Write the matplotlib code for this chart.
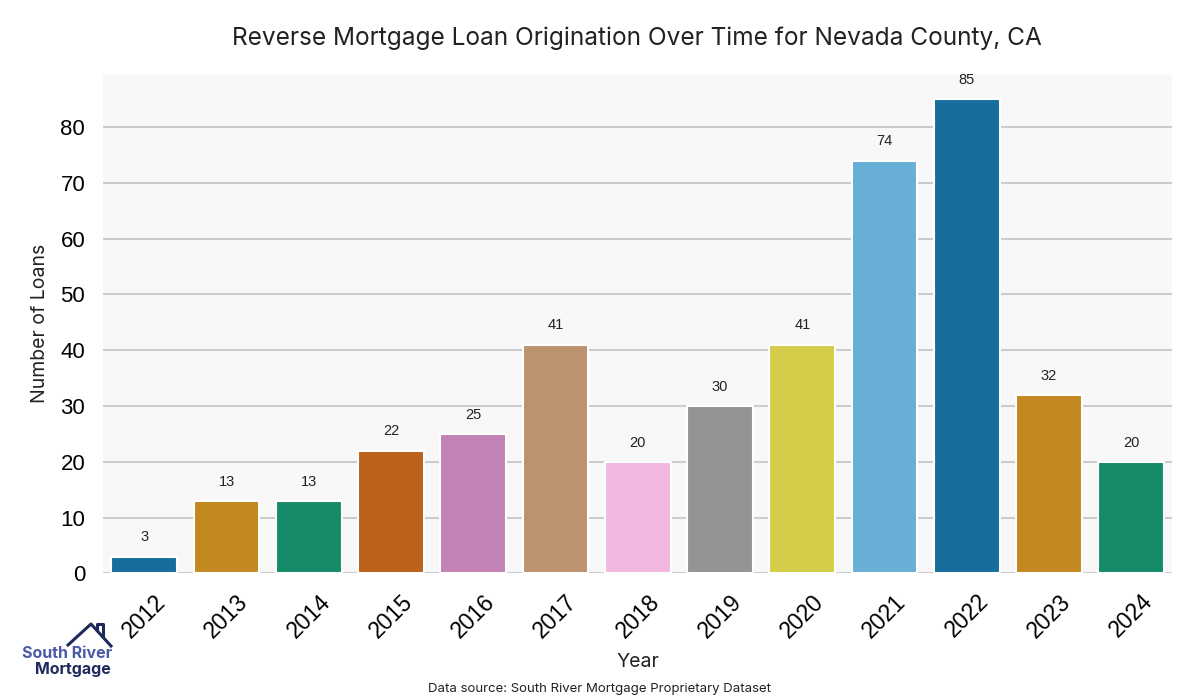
import matplotlib
matplotlib.use("Agg")
import matplotlib.pyplot as plt
import matplotlib.colors as mcolors
import colorsys
from matplotlib.lines import Line2D

years = ["2012", "2013", "2014", "2015", "2016", "2017", "2018", "2019", "2020", "2021", "2022", "2023", "2024"]
loans = [3, 13, 13, 22, 25, 41, 20, 30, 41, 74, 85, 32, 20]
palette = ["#0173B2", "#DE8F05", "#029E73", "#D55E00", "#CC78BC", "#CA9161",
           "#FBAFE4", "#949494", "#ECE133", "#56B4E9", "#0173B2", "#DE8F05", "#029E73"]

def desat(c, s=0.75):
    r, g, b = mcolors.to_rgb(c)
    h, l, sat = colorsys.rgb_to_hls(r, g, b)
    return colorsys.hls_to_rgb(h, l, sat * s)

colors = [desat(c) for c in palette]

fig = plt.figure(figsize=(12, 7), dpi=100)
ax = fig.add_axes([0.086, 0.181, 0.891, 0.713])
ax.set_facecolor("#f8f8f8")
x = list(range(len(years)))
bars = ax.bar(x, loans, width=0.8, color=colors, edgecolor="white", linewidth=1.5, zorder=3)
for xi, v in zip(x, loans):
    ax.text(xi, v + 2.2, str(v), ha="center", va="bottom", fontsize=10.5,
            family="Liberation Sans", color="#222222")

ax.set_xlim(-0.5, len(years) - 0.5)
ax.set_ylim(0, 89.5)
ax.set_yticks([0, 10, 20, 30, 40, 50, 60, 70, 80])
ax.yaxis.grid(True, color="#cccccc", linewidth=1.5, zorder=0)
ax.set_axisbelow(True)
for s in ax.spines.values():
    s.set_visible(False)
ax.tick_params(axis="y", length=0, labelsize=16, pad=13)
ax.tick_params(axis="x", length=0, labelsize=16, pad=12)
ax.set_xticks(x)
ax.set_xticklabels(years, rotation=45, ha="center", fontsize=16.5, family="Liberation Sans")
for lab in ax.get_yticklabels():
    lab.set_family("Liberation Sans")
ax.set_xlabel("Year", fontsize=14, family="Inter", color="#222222", labelpad=8)
ax.set_ylabel("Number of Loans", fontsize=14, family="Inter", color="#222222", labelpad=8)

fig.text(0.531, 0.945, "Reverse Mortgage Loan Origination Over Time for Nevada County, CA",
         ha="center", va="center", fontsize=17.6, family="Inter", color="#222222")
fig.text(0.5, 0.016, "Data source: South River Mortgage Proprietary Dataset",
         ha="center", va="center", fontsize=9.5, family="Inter", color="#222222")

# logo
fig.text(0.0558, 0.067, "South River", ha="center", va="center", fontsize=11.5,
         family="Inter", fontweight="bold", color="#4a5aa8")
fig.text(0.061, 0.044, "Mortgage", ha="center", va="center", fontsize=11.5,
         family="Inter", fontweight="bold", color="#1f2a5c")
hx = [68/1200, 91/1200, 111/1200]
hy = [1 - 645/700, 1 - 624/700, 1 - 646/700]
fig.add_artist(Line2D(hx, hy, color="#1f2a5c", linewidth=2.2, transform=fig.transFigure))
fig.add_artist(Line2D([97/1200, 97/1200, 103/1200, 103/1200],
                      [1 - 630/700, 1 - 624/700, 1 - 624/700, 1 - 635/700],
                      color="#1f2a5c", linewidth=2.2, transform=fig.transFigure))

fig.savefig("out.png", dpi=100, facecolor="white")
